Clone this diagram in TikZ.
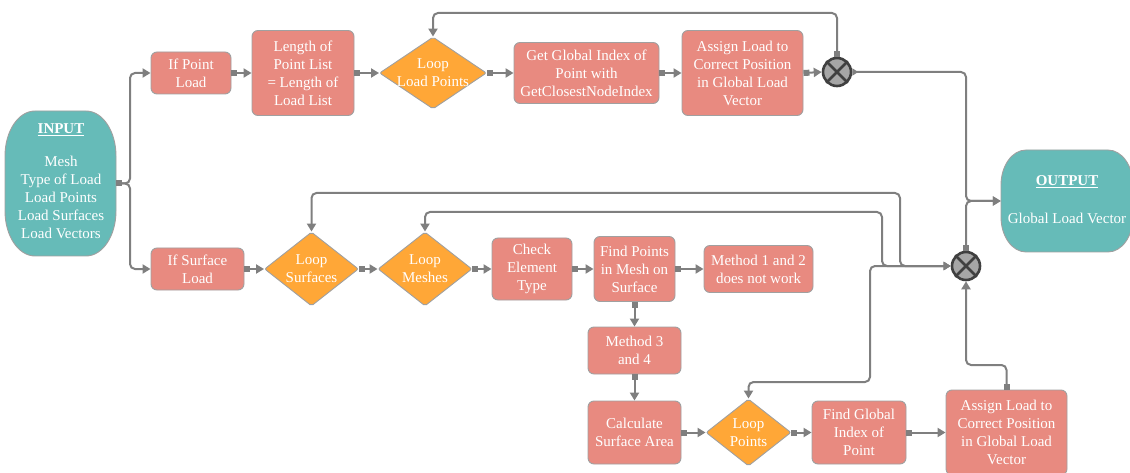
\documentclass[tikz,border=0pt]{standalone}
\usepackage{fontspec}
\setmainfont{Liberation Serif}
\usetikzlibrary{shapes.geometric,arrows.meta,calc}

\definecolor{salmon}{HTML}{E88A80}
\definecolor{amber}{HTML}{FFA737}
\definecolor{tealfill}{HTML}{66BBB8}
\definecolor{wire}{HTML}{7F7F7F}
\definecolor{rim}{HTML}{A0A0A0}
\definecolor{sumfill}{HTML}{A6A6A6}
\definecolor{sumrim}{HTML}{404040}

\tikzset{
  txt/.style={text=white, font=\fontsize{15}{18}\selectfont, align=center, inner sep=0pt},
  box/.style={txt, rectangle, rounded corners=6pt, fill=salmon, draw=rim, line width=0.9pt},
  decision/.style={diamond, rounded corners=2pt, fill=amber, draw=rim, line width=0.9pt, inner sep=0pt},
  junction/.style={circle, fill=sumfill, draw=sumrim, line width=2.6pt, minimum size=28pt, inner sep=0pt},
  cross/.style={draw=sumrim, line width=2.6pt},
  frame/.style={inner sep=0pt},
  terminal/.style={fill=tealfill, draw=rim, line width=0.9pt},
  wirestyle/.style={draw=wire, line width=2pt, rounded corners=5pt},
  flow/.style={wirestyle, {Square[length=6pt,width=6pt]}-{Triangle[length=8pt,width=9pt]}},
  back/.style={wirestyle, {Triangle[length=7pt,width=8pt]}-{Triangle[length=8pt,width=9pt]}},
  outflow/.style={wirestyle, {Triangle[reversed,length=6pt,width=7pt]}-{Triangle[length=8pt,width=9pt]}},
  heading/.style={txt, anchor=base, font=\fontsize{15}{18}\selectfont\bfseries},
}

\begin{document}
\begin{tikzpicture}[x=1pt, y=-1pt]
\useasboundingbox (0,0) rectangle (1130,473);

% ---------- terminals ----------
\node[frame, minimum width=111pt, minimum height=145pt] (inp) at (60.5,183.5) {};
\path[terminal] (35,111) -- (86,111) .. controls (102.6,111) and (116,131.1) .. (116,156)
  -- (116,211) .. controls (116,235.9) and (102.6,256) .. (86,256)
  -- (35,256) .. controls (18.4,256) and (5,235.9) .. (5,211)
  -- (5,156) .. controls (5,131.1) and (18.4,111) .. (35,111) -- cycle;
\node[heading] (inptitle) at (61,134) {\underline{INPUT}};
\node[txt] (inpbody) at (61,197) {Mesh\\Type of Load\\Load Points\\Load Surfaces\\Load Vectors};

\node[frame, minimum width=132pt, minimum height=102pt] (out) at (1067,201) {};
\path[terminal] (1026,150) -- (1108,150) .. controls (1121.8,150) and (1133,165.7) .. (1133,185)
  -- (1133,217) .. controls (1133,236.3) and (1121.8,252) .. (1108,252)
  -- (1026,252) .. controls (1012.2,252) and (1001,236.3) .. (1001,217)
  -- (1001,185) .. controls (1001,165.7) and (1012.2,150) .. (1026,150) -- cycle;
\node[heading] (outtitle) at (1067,186) {\underline{OUTPUT}};
\node[txt, anchor=base] (outbody) at (1067,224) {Global Load Vector};

% ---------- point load branch ----------
\node[box, minimum width=80pt, minimum height=42pt] (ipl) at (191,73) {If Point\\Load};
\node[box, minimum width=102pt, minimum height=85pt] (len) at (303,73) {Length of\\Point List\\= Length of\\Load List};
\node[decision, minimum width=107pt, minimum height=72pt] (dlp) at (433,73) {};
\node[txt] (dlplabel) at (433,73) {Loop\\Load Points};
\node[box, minimum width=145pt, minimum height=61pt] (ggi) at (586.5,73) {Get Global Index of\\Point with\\GetClosestNodeIndex};
\node[box, minimum width=121pt, minimum height=85pt] (alt) at (742.5,73) {Assign Load to\\Correct Position\\in Global Load\\Vector};
\node[junction] (s1) at (837,72) {};
\draw[cross] (s1.45) -- (s1.225) (s1.135) -- (s1.315);

% ---------- surface load branch ----------
\node[box, minimum width=93pt, minimum height=42pt] (isl) at (197.5,269) {If Surface\\Load};
\node[decision, minimum width=94pt, minimum height=74pt] (dls) at (311.5,269) {};
\node[txt] (dlslabel) at (311.5,269) {Loop\\Surfaces};
\node[decision, minimum width=94pt, minimum height=74pt] (dlm) at (425,269) {};
\node[txt] (dlmlabel) at (425,269) {Loop\\Meshes};
\node[box, minimum width=80pt, minimum height=62pt] (cet) at (532,269) {Check\\Element\\Type};
\node[box, minimum width=81pt, minimum height=65pt] (fpm) at (634.5,269) {Find Points\\in Mesh on\\Surface};
\node[box, minimum width=109pt, minimum height=47pt] (m12) at (758.5,269) {Method 1 and 2\\does not work};
\node[box, minimum width=93pt, minimum height=47pt] (m34) at (634.5,350.5) {Method 3\\and 4};
\node[box, minimum width=93pt, minimum height=63pt] (csa) at (634.5,432.5) {Calculate\\Surface Area};
\node[decision, minimum width=85pt, minimum height=67pt] (dpt) at (748.5,432.5) {};
\node[txt] (dptlabel) at (748.5,432.5) {Loop\\Points};
\node[box, minimum width=94pt, minimum height=63pt] (fgi) at (859,432.5) {Find Global\\Index of\\Point};
\node[box, minimum width=121pt, minimum height=85pt] (alb) at (1006.5,432.5) {Assign Load to\\Correct Position\\in Global Load\\Vector};
\node[junction] (s2) at (966,266) {};
\draw[cross] (s2.45) -- (s2.225) (s2.135) -- (s2.315);

% ---------- routing points ----------
\coordinate (split) at (130,183.5);
\coordinate (looptop) at (433,13);
\coordinate (jn) at (966,201);
\coordinate (upbend) at (966,365);
\coordinate (bpts) at (870,382);
\coordinate (bmesh) at (882,212);
\coordinate (bsurf) at (900,193);

% ---------- connectors ----------
\draw[flow] (inp.east) -- (split) |- (ipl.west);
\draw[flow] (inp.east) -- (split) |- (isl.west);

\draw[flow] (ipl.east) -- (len.west);
\draw[flow] (len.east) -- (dlp.west);
\draw[flow] (dlp.east) -- (ggi.west);
\draw[flow] (ggi.east) -- (alt.west);
\draw[flow] (alt.east) -- (s1.west);
\draw[flow] (s1.north) |- (looptop) -- (dlp.north);
\draw[outflow] (s1.east) -| (jn) -- (out.west);

\draw[flow] (isl.east) -- (dls.west);
\draw[flow] (dls.east) -- (dlm.west);
\draw[flow] (dlm.east) -- (cet.west);
\draw[flow] (cet.east) -- (fpm.west);
\draw[flow] (fpm.east) -- (m12.west);
\draw[flow] (fpm.south) -- (m34.north);
\draw[flow] (m34.south) -- (csa.north);
\draw[flow] (csa.east) -- (dpt.west);
\draw[flow] (dpt.east) -- (fgi.west);
\draw[flow] (fgi.east) -- (alb.west);
\draw[flow] (alb.north) |- (upbend) -- (s2.south);
\draw[flow] (s2.north) -- (jn) -- (out.west);

\draw[back] (s2.west) -| (bpts) -| (dpt.north);
\draw[back] (s2.west) -| (bmesh) -| (dlm.north);
\draw[back] (s2.west) -| (bsurf) -| (dls.north);
\end{tikzpicture}
\end{document}
